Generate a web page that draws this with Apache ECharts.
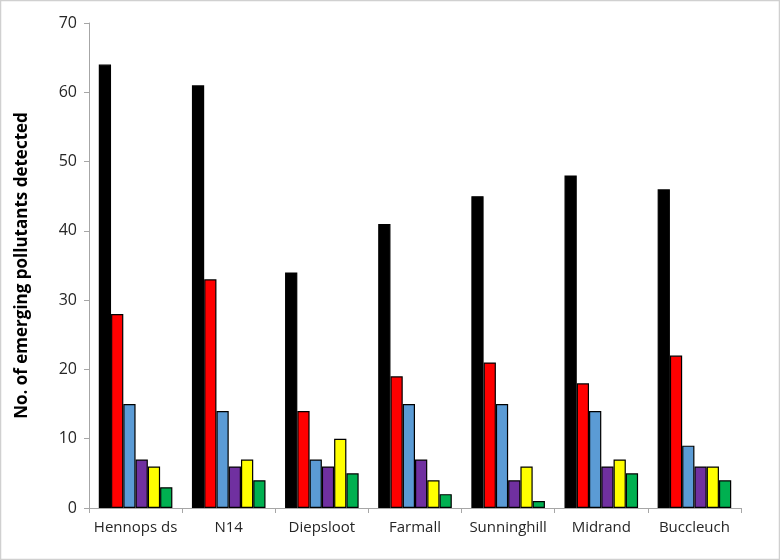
<!DOCTYPE html>
<html>
<head>
<meta charset="utf-8">
<script src="https://cdn.jsdelivr.net/npm/echarts@6/dist/echarts.min.js"></script>
<style>
  html, body { margin: 0; padding: 0; background: #fff; }
  #chart { width: 780px; height: 560px; }
</style>
</head>
<body>
<div id="chart"></div>
<script>
// sites along the river
var sites = ['Hennops ds', 'N14', 'Diepsloot', 'Farmall', 'Sunninghill', 'Midrand', 'Buccleuch']

// one array per bar colour, left to right in each group
var blackVals = [64, 61, 34, 41, 45, 48, 46]
var redVals = [28, 33, 14, 19, 21, 18, 22]
var blueVals = [15, 14, 7, 15, 15, 14, 9]
var purpleVals = [7, 6, 6, 7, 4, 6, 6]
var yellowVals = [6, 7, 10, 4, 6, 7, 6]
var greenVals = [3, 4, 5, 2, 1, 5, 4]

var barColors = ['#000000', '#ff0000', '#5b9bd5', '#7030a0', '#ffff00', '#00b050']
var allVals = [blackVals, redVals, blueVals, purpleVals, yellowVals, greenVals]

var font = '"Open Sans", "Liberation Sans", sans-serif'

var series = allVals.map(function (vals, i) {
  return {
    type: 'bar',
    data: vals,
    barGap: '0%',
    barCategoryGap: '21%',
    itemStyle: {
      color: barColors[i],
      borderColor: '#000',
      borderWidth: 1.2
    }
  }
})

var chart = echarts.init(document.getElementById('chart'))
chart.setOption({
  animation: false,
  graphic: [{
    type: 'rect',
    shape: { x: 0.5, y: 0.5, width: 779, height: 559 },
    style: { fill: 'none', stroke: '#d0d0d0', lineWidth: 1.5 }
  }],
  grid: {
    left: 89,
    right: 39,
    top: 23,
    bottom: 52
  },
  xAxis: {
    type: 'category',
    data: sites,
    axisLine: { lineStyle: { color: '#a6a6a6' } },
    axisTick: { show: true, length: 5, lineStyle: { color: '#a6a6a6' } },
    axisLabel: { interval: 0, color: '#262626', fontSize: 15, fontFamily: font, margin: 12 }
  },
  yAxis: {
    type: 'value',
    min: 0,
    max: 70,
    interval: 10,
    name: 'No. of emerging pollutants detected',
    nameLocation: 'middle',
    nameGap: 58,
    nameTextStyle: { color: '#000', fontSize: 17, fontWeight: 'bold', fontFamily: font },
    axisLine: { show: true, lineStyle: { color: '#a6a6a6' } },
    axisTick: { show: true, length: 5, lineStyle: { color: '#a6a6a6' } },
    splitLine: { show: false },
    axisLabel: { color: '#262626', fontSize: 16, fontFamily: font, margin: 12 }
  },
  series: series
})
</script>
</body>
</html>
